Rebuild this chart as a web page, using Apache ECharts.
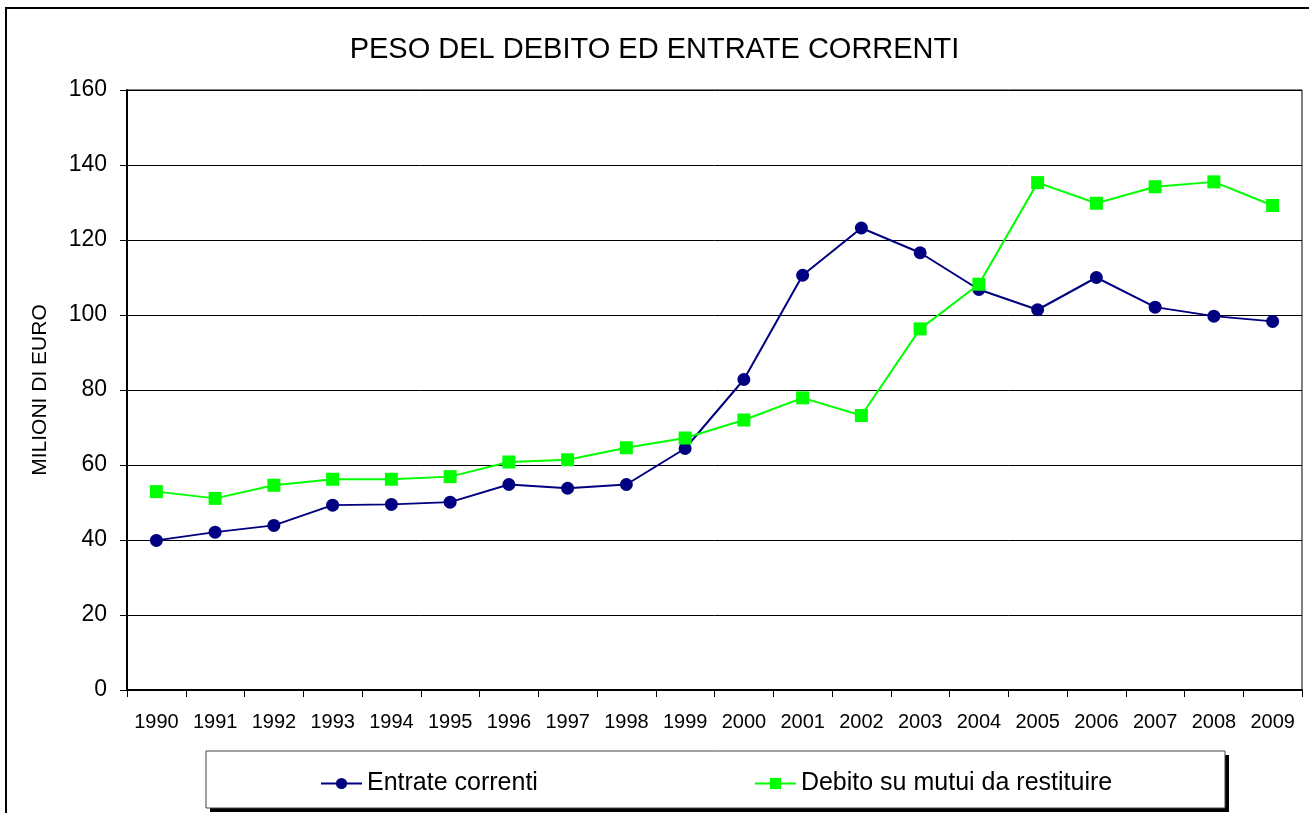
<!DOCTYPE html>
<html>
<head>
<meta charset="utf-8">
<script src="https://cdn.jsdelivr.net/npm/echarts@6/dist/echarts.min.js"></script>
<style>
  html, body { margin: 0; padding: 0; background: #fff; }
  #chart { width: 1309px; height: 813px; }
</style>
</head>
<body>
<div id="chart"></div>
<script>
// dati
var anni = ['1990', '1991', '1992', '1993', '1994', '1995', '1996', '1997', '1998', '1999',
            '2000', '2001', '2002', '2003', '2004', '2005', '2006', '2007', '2008', '2009'];
var entrateCorrenti = [39.9, 42.1, 43.9, 49.3, 49.5, 50.1, 54.8, 53.8, 54.8, 64.4,
                       82.8, 110.6, 123.2, 116.6, 106.8, 101.4, 110.0, 102.1, 99.7, 98.3];
var debitoMutui = [52.9, 51.1, 54.6, 56.2, 56.2, 56.9, 60.8, 61.4, 64.6, 67.2,
                   72.0, 77.9, 73.2, 96.3, 108.2, 135.3, 129.8, 134.2, 135.5, 129.2];
var nomiSerie = ['Entrate correnti', 'Debito su mutui da restituire'];

var font = '"Liberation Sans", Arial, sans-serif';
var myChart = echarts.init(document.getElementById('chart'));

var option = {
  backgroundColor: '#fff',
  animation: false,
  title: {
    text: 'PESO DEL DEBITO ED ENTRATE CORRENTI',
    left: 'center',
    top: 30,
    textStyle: { fontFamily: font, fontSize: 29, fontWeight: 'normal', color: '#000' }
  },
  graphic: [
    { // bordo esterno
      type: 'rect', z: 0,
      shape: { x: 6, y: 8, width: 1400, height: 900 },
      style: { fill: 'none', stroke: '#000', lineWidth: 2 }
    },
    { // ombra legenda
      type: 'rect', z: 1,
      shape: { x: 210, y: 755, width: 1019, height: 57 },
      style: { fill: '#000' }
    },
    { // riquadro legenda
      type: 'rect', z: 2,
      shape: { x: 206, y: 751, width: 1019, height: 57 },
      style: { fill: '#fff', stroke: '#444', lineWidth: 1 }
    }
  ],
  legend: {
    data: nomiSerie,
    left: 315,
    top: 766,
    itemGap: 216,
    itemWidth: 41,
    itemHeight: 14,
    textStyle: { fontFamily: font, fontSize: 25, color: '#000' }
  },
  grid: {
    left: 127, right: 7, top: 90, bottom: 123,
    show: true, borderColor: '#000', borderWidth: 1
  },
  xAxis: {
    type: 'category',
    data: anni,
    boundaryGap: true,
    axisLine: { lineStyle: { color: '#000', width: 2 } },
    axisTick: { show: true, interval: 0, length: 7, lineStyle: { color: '#000' } },
    axisLabel: { interval: 0, margin: 22, fontFamily: font, fontSize: 20, color: '#000' }
  },
  yAxis: {
    type: 'value',
    min: 0, max: 160, interval: 20,
    name: 'MILIONI DI EURO',
    nameLocation: 'middle',
    nameGap: 76,
    nameTextStyle: { fontFamily: font, fontSize: 21, color: '#000' },
    axisLine: { show: true, lineStyle: { color: '#000', width: 2 } },
    axisTick: { show: true, length: 7, lineStyle: { color: '#000' } },
    axisLabel: { margin: 20, fontFamily: font, fontSize: 23, color: '#000' },
    splitLine: { show: true, lineStyle: { color: '#000', width: 1 } }
  },
  series: [
    {
      name: nomiSerie[0],
      type: 'line',
      data: entrateCorrenti,
      symbol: 'circle',
      symbolSize: 13,
      z: 3,
      itemStyle: { color: '#000080' },
      lineStyle: { color: '#000080', width: 2 }
    },
    {
      name: nomiSerie[1],
      type: 'line',
      data: debitoMutui,
      symbol: 'rect',
      symbolSize: 13,
      z: 4,
      itemStyle: { color: '#00ff00' },
      lineStyle: { color: '#00ff00', width: 2 }
    }
  ]
};

myChart.setOption(option);
</script>
</body>
</html>
